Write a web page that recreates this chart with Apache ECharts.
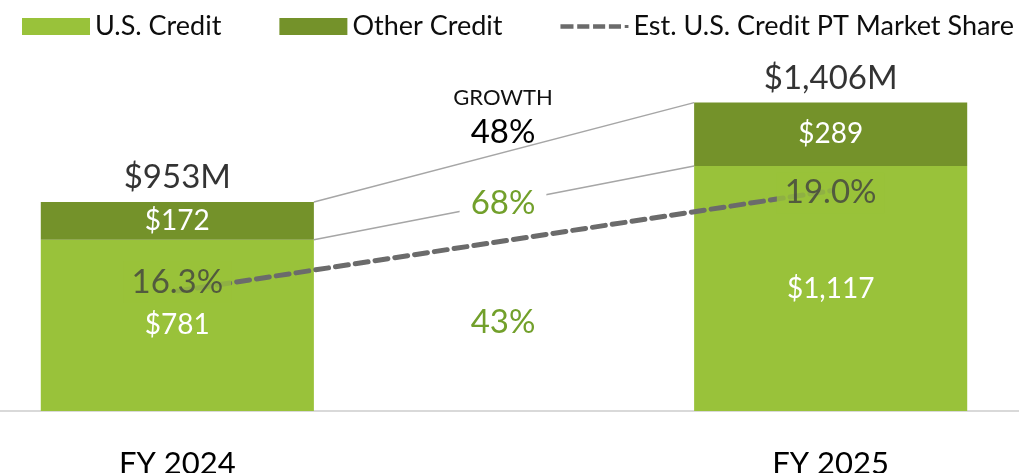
<!DOCTYPE html>
<html>
<head>
<meta charset="utf-8">
<script src="https://cdn.jsdelivr.net/npm/echarts@6/dist/echarts.min.js"></script>
<style>
  html, body { margin: 0; padding: 0; background: #fff; }
  #main { width: 1019px; height: 473px; }
</style>
</head>
<body>
<div id="main"></div>
<script>
// 数据
const categories = ['FY 2024', '', 'FY 2025'];
const usCredit = [781, null, 1117];
const otherCredit = [172, null, 289];
const marketShare = [16.3, null, 19.0];
const legendNames = ['U.S. Credit', 'Other Credit', 'Est. U.S. Credit PT Market Share'];

const LIGHT = '#99c23a';
const DARK = '#74922a';
const LINE_GRAY = '#6b6b6b';
const FONT = 'Lato';
const BAR_W = 0.836; // 柱宽占类目宽的比例
// 图例里的虚线图标
const DASH_ICON = 'path://M0,0h14v5h-14z M18,0h13v5h-13z M35,0h13v5h-13z M52,0h13v5h-13z M69,1h4v3h-4z';

const totals = usCredit.map((v, i) => v == null ? null : v + otherCredit[i]);
const growth = (a, b) => Math.round((b / a - 1) * 100) + '%';
const edgeL = 0.5 + BAR_W / 2;   // 第一根柱右边缘
const edgeR = 2.5 - BAR_W / 2;   // 第二根柱左边缘

const myChart = echarts.init(document.getElementById('main'));
myChart.setOption({
  animation: false,
  textStyle: { fontFamily: FONT },
  legend: {
    left: 22,
    top: 13,
    width: 1000,
    padding: 0,
    itemWidth: 68,
    itemHeight: 17,
    itemGap: 58,
    textStyle: { fontSize: 27, color: '#0d0d0d', fontFamily: FONT },
    data: [
      { name: legendNames[0], icon: 'rect' },
      { name: legendNames[1], icon: 'rect' },
      { name: legendNames[2], icon: DASH_ICON }
    ]
  },
  grid: { left: 14, right: 25, bottom: 62, top: 82, outerBoundsMode: 'none' },
  xAxis: [{
    type: 'category',
    data: categories,
    axisLine: { show: false },
    axisTick: { show: false },
    axisLabel: { fontSize: 31, color: '#000', margin: 37, fontFamily: FONT }
  }, {
    type: 'value',
    min: 0,
    max: 3,
    show: false
  }],
  yAxis: [{
    type: 'value', min: 0, max: 1500, show: false
  }, {
    type: 'value', min: 13.07, max: 21.93, show: false
  }],
  graphic: [
    { type: 'line', z: 0, shape: { x1: 0, y1: 411, x2: 1019, y2: 411 }, style: { stroke: '#d9d9d9', lineWidth: 2 } },
    { type: 'text', x: 503, y: 98, z: 100, style: { text: 'GROWTH', fontSize: 22, fill: '#111', fontFamily: FONT, align: 'center', verticalAlign: 'middle' } },
    { type: 'text', x: 503, y: 132, z: 100, style: { text: growth(totals[0], totals[2]), fontSize: 33, fill: '#000', fontFamily: FONT, align: 'center', verticalAlign: 'middle' } },
    { type: 'text', x: 503, y: 203, z: 100, style: { text: growth(otherCredit[0], otherCredit[2]), fontSize: 33, fill: '#72a02b', fontFamily: FONT, align: 'center', verticalAlign: 'middle', backgroundColor: '#fff', padding: [2, 11] } },
    { type: 'text', x: 503, y: 322, z: 100, style: { text: growth(usCredit[0], usCredit[2]), fontSize: 33, fill: '#72a02b', fontFamily: FONT, align: 'center', verticalAlign: 'middle' } }
  ],
  series: [{
    name: legendNames[0],
    type: 'bar',
    stack: 'credit',
    barWidth: (BAR_W * 100) + '%',
    itemStyle: { color: LIGHT },
    label: {
      show: true, position: 'inside', color: '#fff', fontSize: 28, fontFamily: FONT,
      formatter: p => '$' + p.value.toLocaleString('en-US')
    },
    data: usCredit
  }, {
    name: legendNames[1],
    type: 'bar',
    stack: 'credit',
    itemStyle: { color: DARK },
    label: {
      show: true, position: 'inside', color: '#fff', fontSize: 28, fontFamily: FONT,
      formatter: p => '$' + p.value.toLocaleString('en-US')
    },
    data: otherCredit
  }, {
    name: 'total',
    type: 'scatter',
    symbolSize: 0,
    label: {
      show: true, position: 'top', distance: 8, color: '#000', fontSize: 33, fontFamily: FONT,
      formatter: p => '$' + p.value.toLocaleString('en-US') + 'M'
    },
    data: totals
  }, {
    name: 'connectorTop',
    type: 'line',
    xAxisIndex: 1,
    symbol: 'none',
    silent: true,
    lineStyle: { color: '#a6a6a6', width: 1.5 },
    data: [[edgeL, totals[0]], [edgeR, totals[2]]]
  }, {
    name: 'connectorUS',
    type: 'line',
    xAxisIndex: 1,
    symbol: 'none',
    silent: true,
    lineStyle: { color: '#a6a6a6', width: 1.5 },
    data: [[edgeL, usCredit[0]], [edgeR, usCredit[2]]]
  }, {
    name: legendNames[2],
    type: 'line',
    yAxisIndex: 1,
    connectNulls: true,
    symbol: 'none',
    z: 5,
    itemStyle: { color: LINE_GRAY },
    lineStyle: { color: LINE_GRAY, width: 5, type: [13, 7], cap: 'round' },
    data: marketShare
  }, {
    name: 'shareLabel',
    type: 'scatter',
    yAxisIndex: 1,
    symbolSize: 0,
    z: 6,
    label: {
      show: true, position: 'inside', color: '#404040', fontSize: 33, fontFamily: FONT,
      backgroundColor: LIGHT, padding: [4, 8],
      formatter: p => p.value.toFixed(1) + '%'
    },
    data: marketShare.map((v, i) => v == null ? null : {
      value: v,
      label: { offset: i === 0 ? [0, -9] : [0, 2] }
    })
  }]
});
</script>
</body>
</html>
